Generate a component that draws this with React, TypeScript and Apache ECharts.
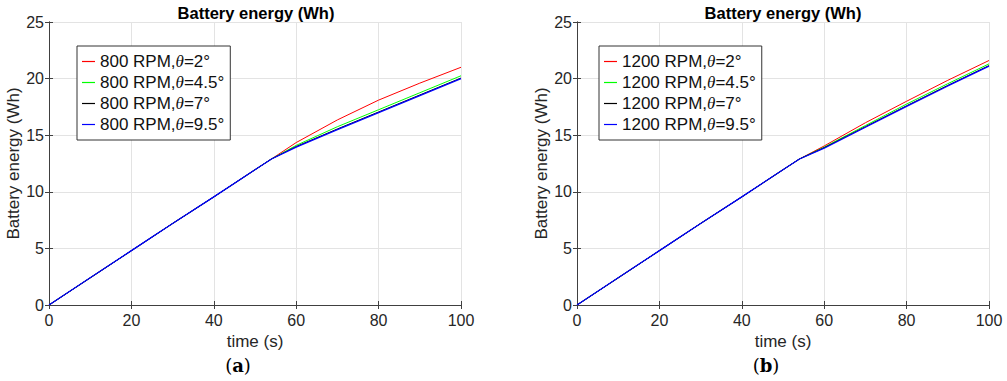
import React, { useEffect, useRef } from "react";
import * as echarts from "echarts";

// ---- data ----
const timeS = [0, 10, 20, 30, 40, 50, 54, 60, 70, 80, 90, 100];
const xTicks = [0, 20, 40, 60, 80, 100];
const yTicks = [0, 5, 10, 15, 20, 25];

const names800 = ["800 RPM,θ=2°", "800 RPM,θ=4.5°", "800 RPM,θ=7°", "800 RPM,θ=9.5°"];
const names1200 = ["1200 RPM,θ=2°", "1200 RPM,θ=4.5°", "1200 RPM,θ=7°", "1200 RPM,θ=9.5°"];

const e800_2 = [0, 2.4, 4.8, 7.2, 9.55, 11.95, 12.9, 14.35, 16.35, 18.1, 19.6, 21.0];
const e800_45 = [0, 2.4, 4.8, 7.2, 9.55, 11.95, 12.9, 14.1, 15.75, 17.25, 18.75, 20.25];
const e800_7 = [0, 2.4, 4.8, 7.2, 9.55, 11.95, 12.9, 14.0, 15.55, 17.05, 18.55, 20.05];
const e800_95 = [0, 2.4, 4.8, 7.2, 9.55, 11.95, 12.9, 13.95, 15.5, 17.0, 18.5, 20.0];

const e1200_2 = [0, 2.4, 4.8, 7.2, 9.55, 11.95, 12.9, 14.05, 16.1, 18.0, 19.85, 21.6];
const e1200_45 = [0, 2.4, 4.8, 7.2, 9.55, 11.95, 12.9, 13.95, 15.85, 17.75, 19.55, 21.3];
const e1200_7 = [0, 2.4, 4.8, 7.2, 9.55, 11.95, 12.9, 13.9, 15.75, 17.6, 19.4, 21.15];
const e1200_95 = [0, 2.4, 4.8, 7.2, 9.55, 11.95, 12.9, 13.85, 15.7, 17.55, 19.35, 21.1];

const colors = ["#ff0000", "#00ff00", "#000000", "#0000ff"];
const widths = [1, 1, 1, 1.3];

const FONT = "'Liberation Sans', Arial, Helvetica, sans-serif";
const AXIS_COLOR = "#404040";
const TEXT_COLOR = "#262626";

export default function App() {
  const ref = useRef<HTMLDivElement>(null);

  useEffect(() => {
    if (!ref.current) return;
    const chart = echarts.init(ref.current, undefined, { renderer: "svg" });

    const grids = [
      { left: 49, right: 546, top: 22, bottom: 76 },
      { left: 577, right: 18, top: 22, bottom: 76 },
    ];

    const bottomX = (g: number) => ({
      type: "value",
      gridIndex: g,
      min: xTicks[0],
      max: xTicks[xTicks.length - 1],
      interval: 20,
      name: "time (s)",
      nameLocation: "middle",
      nameGap: 28,
      nameTextStyle: { fontSize: 17, color: TEXT_COLOR, fontFamily: FONT },
      axisLine: { show: true, lineStyle: { color: AXIS_COLOR, width: 1 } },
      axisTick: { show: true, inside: true, length: 4, lineStyle: { color: AXIS_COLOR } },
      axisLabel: { fontSize: 16, color: TEXT_COLOR, fontFamily: FONT, margin: 7 },
      splitLine: { show: true, lineStyle: { color: "#e3e3e3", width: 1 } },
    });
    const topX = (g: number) => ({
      type: "value",
      gridIndex: g,
      position: "top",
      min: xTicks[0],
      max: xTicks[xTicks.length - 1],
      interval: 20,
      axisLine: { show: true, lineStyle: { color: AXIS_COLOR, width: 1 } },
      axisTick: { show: true, inside: true, length: 4, lineStyle: { color: AXIS_COLOR } },
      axisLabel: { show: false },
      splitLine: { show: false },
    });
    const leftY = (g: number) => ({
      type: "value",
      gridIndex: g,
      min: yTicks[0],
      max: yTicks[yTicks.length - 1],
      interval: 5,
      name: "Battery energy (Wh)",
      nameLocation: "middle",
      nameGap: 24,
      nameTextStyle: { fontSize: 17, color: TEXT_COLOR, fontFamily: FONT },
      axisLine: { show: true, lineStyle: { color: AXIS_COLOR, width: 1 } },
      axisTick: { show: true, inside: true, length: 4, lineStyle: { color: AXIS_COLOR } },
      axisLabel: { fontSize: 16, color: TEXT_COLOR, fontFamily: FONT, margin: 5 },
      splitLine: { show: true, lineStyle: { color: "#e3e3e3", width: 1 } },
    });
    const rightY = (g: number) => ({
      type: "value",
      gridIndex: g,
      position: "right",
      min: yTicks[0],
      max: yTicks[yTicks.length - 1],
      interval: 5,
      axisLine: { show: true, lineStyle: { color: AXIS_COLOR, width: 1 } },
      axisTick: { show: true, inside: true, length: 4, lineStyle: { color: AXIS_COLOR } },
      axisLabel: { show: false },
      splitLine: { show: false },
    });

    const mk = (name: string, vals: number[], k: number, axisIdx: number) => ({
      type: "line",
      name,
      xAxisIndex: axisIdx,
      yAxisIndex: axisIdx,
      data: timeS.map((t, i) => [t, vals[i]]),
      showSymbol: false,
      symbol: "none",
      color: colors[k],
      lineStyle: { color: colors[k], width: widths[k] },
      emphasis: { disabled: true },
    });

    const legendCommon = {
      orient: "vertical",
      top: 46,
      icon: "rect",
      itemWidth: 13,
      itemHeight: 1.2,
      itemGap: 4,
      padding: [7, 6, 7, 5],
      borderColor: "#333333",
      borderWidth: 1,
      backgroundColor: "#ffffff",
      textStyle: {
        fontSize: 17,
        color: "#111111",
        fontFamily: FONT,
        rich: {
          i: { fontSize: 17, color: "#111111", fontFamily: "'Liberation Serif', 'Times New Roman', serif", fontStyle: "italic" },
        },
      },
      formatter: (n: string) => n.replace("θ", "{i|θ}"),
    };

    const serifRich = {
      p: { fontSize: 18, fontFamily: "'DejaVu Serif', serif", fill: "#000", color: "#000" },
      b: { fontSize: 18, fontFamily: "'DejaVu Serif', serif", fontWeight: "bold", fill: "#000", color: "#000" },
    };

    chart.setOption({
      animation: false,
      backgroundColor: "#ffffff",
      title: [
        {
          text: "Battery energy (Wh)",
          left: 256,
          top: 4,
          padding: 0,
          textAlign: "center",
          textStyle: { fontSize: 16.5, fontWeight: "bold", color: "#000", fontFamily: FONT },
        },
        {
          text: "Battery energy (Wh)",
          left: 783,
          top: 4,
          padding: 0,
          textAlign: "center",
          textStyle: { fontSize: 16.5, fontWeight: "bold", color: "#000", fontFamily: FONT },
        },
      ],
      grid: grids,
      xAxis: [bottomX(0), topX(0), bottomX(1), topX(1)],
      yAxis: [leftY(0), rightY(0), leftY(1), rightY(1)],
      legend: [
        { ...legendCommon, left: 77, data: names800 },
        { ...legendCommon, left: 599, data: names1200 },
      ],
      series: [
        mk(names800[0], e800_2, 0, 0),
        mk(names800[1], e800_45, 1, 0),
        mk(names800[2], e800_7, 2, 0),
        mk(names800[3], e800_95, 3, 0),
        mk(names1200[0], e1200_2, 0, 2),
        mk(names1200[1], e1200_45, 1, 2),
        mk(names1200[2], e1200_7, 2, 2),
        mk(names1200[3], e1200_95, 3, 2),
      ],
      graphic: [
        {
          type: "text",
          x: 238,
          y: 365,
          style: {
            text: "{p|(}{b|a}{p|)}",
            rich: serifRich,
            align: "center",
            verticalAlign: "middle",
            fill: "#000",
          },
        },
        {
          type: "text",
          x: 766,
          y: 365,
          style: {
            text: "{p|(}{b|b}{p|)}",
            rich: serifRich,
            align: "center",
            verticalAlign: "middle",
            fill: "#000",
          },
        },
      ],
    });

    return () => chart.dispose();
  }, []);

  return (
    <div
      ref={ref}
      style={{ position: "fixed", left: 0, top: 0, width: 1007, height: 381, background: "#fff" }}
    />
  );
}
